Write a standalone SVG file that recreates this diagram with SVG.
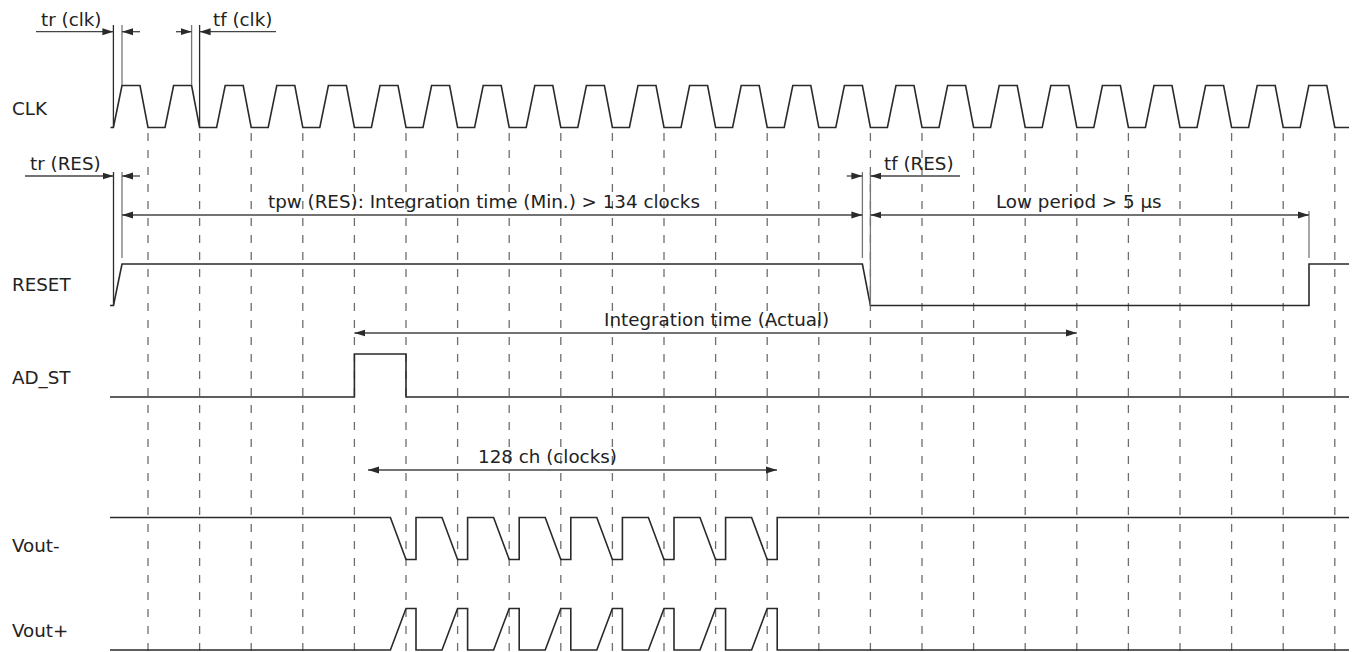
<svg xmlns="http://www.w3.org/2000/svg" width="1356" height="652" viewBox="0 0 1356 652">
<defs>
<marker id="ah" markerUnits="userSpaceOnUse" markerWidth="12" markerHeight="8" refX="11" refY="4" orient="auto-start-reverse"><path d="M0,0.5 L11,4 L0,7.5 z" fill="#2a2a2a"/></marker>
<style>
.sig{fill:none;stroke:#2a2a2a;stroke-width:1.6;stroke-linejoin:miter}
.grid{stroke:#6e6e6e;stroke-width:1.3;stroke-dasharray:8 9}
.dim{fill:none;stroke:#444;stroke-width:1.3}
.ext{stroke:#777;stroke-width:1.3}
.extd{stroke:#2a2a2a;stroke-width:1.3}
.arr{marker-start:url(#ah);marker-end:url(#ah)}
.arre{marker-end:url(#ah)}
text{font-family:"DejaVu Sans",Verdana,sans-serif;font-size:18.3px;fill:#222}
</style>
</defs>
<rect width="1356" height="652" fill="#fff"/>
<g id="grid">
<line class="grid" x1="148" y1="133" x2="148" y2="652"/>
<line class="grid" x1="199.6" y1="133" x2="199.6" y2="652"/>
<line class="grid" x1="251.2" y1="133" x2="251.2" y2="652"/>
<line class="grid" x1="302.8" y1="133" x2="302.8" y2="652"/>
<line class="grid" x1="354.4" y1="133" x2="354.4" y2="652"/>
<line class="grid" x1="406" y1="133" x2="406" y2="652"/>
<line class="grid" x1="457.6" y1="133" x2="457.6" y2="652"/>
<line class="grid" x1="509.2" y1="133" x2="509.2" y2="652"/>
<line class="grid" x1="560.8" y1="133" x2="560.8" y2="652"/>
<line class="grid" x1="612.4" y1="133" x2="612.4" y2="652"/>
<line class="grid" x1="664" y1="133" x2="664" y2="652"/>
<line class="grid" x1="715.6" y1="133" x2="715.6" y2="652"/>
<line class="grid" x1="767.2" y1="133" x2="767.2" y2="652"/>
<line class="grid" x1="818.8" y1="133" x2="818.8" y2="652"/>
<line class="grid" x1="870.4" y1="133" x2="870.4" y2="652"/>
<line class="grid" x1="922" y1="133" x2="922" y2="652"/>
<line class="grid" x1="973.6" y1="133" x2="973.6" y2="652"/>
<line class="grid" x1="1025.2" y1="133" x2="1025.2" y2="652"/>
<line class="grid" x1="1076.8" y1="133" x2="1076.8" y2="652"/>
<line class="grid" x1="1128.4" y1="133" x2="1128.4" y2="652"/>
<line class="grid" x1="1180" y1="133" x2="1180" y2="652"/>
<line class="grid" x1="1231.6" y1="133" x2="1231.6" y2="652"/>
<line class="grid" x1="1283.2" y1="133" x2="1283.2" y2="652"/>
<line class="grid" x1="1334.8" y1="133" x2="1334.8" y2="652"/>
</g>
<g id="clk">
<text x="12" y="115">CLK</text>
<polyline class="sig" points="110.5,127.5 113.4,127.5 122,85.5 140,85.5 148,127.5 165,127.5 173.6,85.5 191.6,85.5 199.6,127.5 216.6,127.5 225.2,85.5 243.2,85.5 251.2,127.5 268.2,127.5 276.8,85.5 294.8,85.5 302.8,127.5 319.8,127.5 328.4,85.5 346.4,85.5 354.4,127.5 371.4,127.5 380,85.5 398,85.5 406,127.5 423,127.5 431.6,85.5 449.6,85.5 457.6,127.5 474.6,127.5 483.2,85.5 501.2,85.5 509.2,127.5 526.2,127.5 534.8,85.5 552.8,85.5 560.8,127.5 577.8,127.5 586.4,85.5 604.4,85.5 612.4,127.5 629.4,127.5 638,85.5 656,85.5 664,127.5 681,127.5 689.6,85.5 707.6,85.5 715.6,127.5 732.6,127.5 741.2,85.5 759.2,85.5 767.2,127.5 784.2,127.5 792.8,85.5 810.8,85.5 818.8,127.5 835.8,127.5 844.4,85.5 862.4,85.5 870.4,127.5 887.4,127.5 896,85.5 914,85.5 922,127.5 939,127.5 947.6,85.5 965.6,85.5 973.6,127.5 990.6,127.5 999.2,85.5 1017.2,85.5 1025.2,127.5 1042.2,127.5 1050.8,85.5 1068.8,85.5 1076.8,127.5 1093.8,127.5 1102.4,85.5 1120.4,85.5 1128.4,127.5 1145.4,127.5 1154,85.5 1172,85.5 1180,127.5 1197,127.5 1205.6,85.5 1223.6,85.5 1231.6,127.5 1248.6,127.5 1257.2,85.5 1275.2,85.5 1283.2,127.5 1300.2,127.5 1308.8,85.5 1326.8,85.5 1334.8,127.5 1349,127.5"/>
</g>
<g id="reset">
<text x="12" y="291">RESET</text>
<polyline class="sig" points="110,305.5 113.5,305.5 122,264 862.4,264 870.4,305.5 1309,305.5 1309,264 1349,264"/>
</g>
<g id="ad_st">
<text x="12" y="384">AD_ST</text>
<polyline class="sig" points="110,397 354.4,397 354.4,354 406,354 406,397 1349,397"/>
</g>
<g id="vout_minus">
<text x="12" y="552">Vout-</text>
<polyline class="sig" points="110,517.5 390.4,517.5 406,559.5 416,559.5 416,517.5 442,517.5 457.6,559.5 467.6,559.5 467.6,517.5 493.6,517.5 509.2,559.5 519.2,559.5 519.2,517.5 545.2,517.5 560.8,559.5 570.8,559.5 570.8,517.5 596.8,517.5 612.4,559.5 622.4,559.5 622.4,517.5 648.4,517.5 664,559.5 674,559.5 674,517.5 700,517.5 715.6,559.5 725.6,559.5 725.6,517.5 751.6,517.5 767.2,559.5 777.2,559.5 777.2,517.5 1349,517.5"/>
</g>
<g id="vout_plus">
<text x="12" y="637">Vout+</text>
<polyline class="sig" points="110,650 390.4,650 406,608.5 416,608.5 416,650 442,650 457.6,608.5 467.6,608.5 467.6,650 493.6,650 509.2,608.5 519.2,608.5 519.2,650 545.2,650 560.8,608.5 570.8,608.5 570.8,650 596.8,650 612.4,608.5 622.4,608.5 622.4,650 648.4,650 664,608.5 674,608.5 674,650 700,650 715.6,608.5 725.6,608.5 725.6,650 751.6,650 767.2,608.5 777.2,608.5 777.2,650 1349,650"/>
</g>
<g id="connectors">
<line class="extd" x1="113.4" y1="25" x2="113.4" y2="127.5"/>
<line class="ext" x1="122" y1="25" x2="122" y2="85"/>
<line class="dim arre" x1="36" y1="31.7" x2="113.4" y2="31.7"/>
<line class="dim arre" x1="140" y1="31.7" x2="122" y2="31.7"/>
<line class="ext" x1="191.6" y1="25" x2="191.6" y2="85"/>
<line class="extd" x1="199.6" y1="25" x2="199.6" y2="127.5"/>
<line class="dim arre" x1="176" y1="31.7" x2="191.6" y2="31.7"/>
<line class="dim arre" x1="276" y1="31.7" x2="199.6" y2="31.7"/>
<line class="extd" x1="113.5" y1="172" x2="113.5" y2="305.5"/>
<line class="ext" x1="122" y1="172" x2="122" y2="258"/>
<line class="dim arre" x1="25" y1="176" x2="113.5" y2="176"/>
<line class="dim arre" x1="140" y1="176" x2="122" y2="176"/>
<line class="ext" x1="862.4" y1="172" x2="862.4" y2="258"/>
<line class="ext" x1="870.4" y1="172" x2="870.4" y2="305.5"/>
<line class="dim arre" x1="846.7" y1="176" x2="862.4" y2="176"/>
<line class="dim arre" x1="960" y1="176" x2="870.4" y2="176"/>
<line class="ext" x1="1309" y1="211" x2="1309" y2="258"/>
<line class="dim arr" x1="122" y1="215" x2="862.4" y2="215"/>
<line class="dim arr" x1="870.4" y1="215" x2="1309" y2="215"/>
<line class="dim arr" x1="354.4" y1="333" x2="1076.8" y2="333"/>
<line class="dim arr" x1="368" y1="470" x2="777" y2="470"/>
</g>
<g id="labels">
<text x="41" y="26">tr (clk)</text>
<text x="213" y="26">tf (clk)</text>
<text x="30" y="170">tr (RES)</text>
<text x="884" y="170">tf (RES)</text>
<text x="268" y="208">tpw (RES): Integration time (Min.) &gt; 134 clocks</text>
<text x="996" y="208">Low period &gt; 5 μs</text>
<text x="604" y="326">Integration time (Actual)</text>
<text x="478" y="463">128 ch (clocks)</text>
</g>
</svg>
